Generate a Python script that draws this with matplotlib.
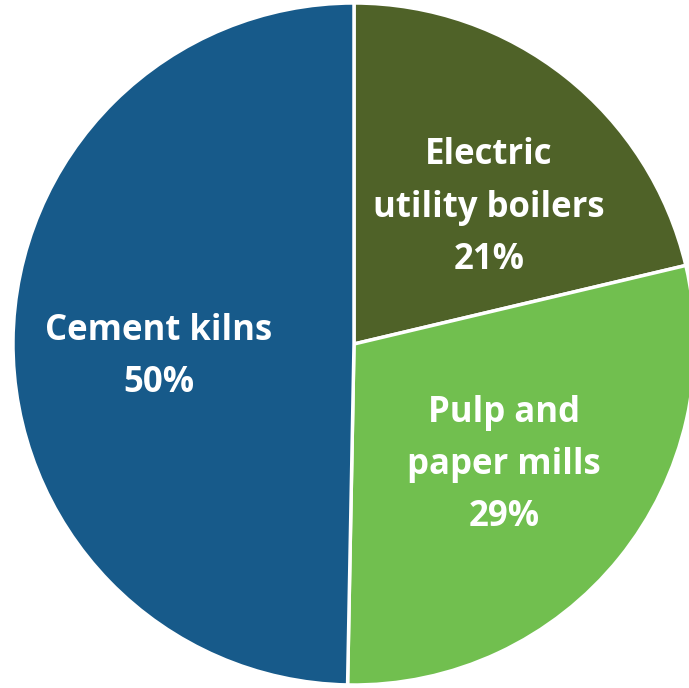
import matplotlib
matplotlib.use("Agg")
import matplotlib.pyplot as plt

categories = ["Electric\nutility boilers", "Pulp and\npaper mills", "Cement kilns"]
values = [21.3, 29.0, 49.7]
pct_labels = ["21%", "29%", "50%"]
colors = ["#4F6228", "#71BF4F", "#175A8A"]

W, H = 689, 688
fig = plt.figure(figsize=(W / 100, H / 100), dpi=100)
ax = fig.add_axes([0, 0, 1, 1])

R = 341.0
cx, cy = 354.0, 344.0
ax.axis("off")

ax.pie(values, colors=colors, startangle=90, counterclock=False,
       radius=1.0, wedgeprops=dict(edgecolor="white", linewidth=2.5))
ax.set_xlim(-cx / R, (W - cx) / R)
ax.set_ylim(-(H - cy) / R, cy / R)
ax.set_aspect("auto")

label_pos = [(0.396, 0.40), (0.44, -0.355), (-0.572, -0.039)]
for (x, y), cat, pct in zip(label_pos, categories, pct_labels):
    ax.text(x, y, cat + "\n" + pct, ha="center", va="center", color="white",
            fontsize=25, fontweight="bold", family="Open Sans", linespacing=1.6)

fig.savefig("out.png", dpi=100)
